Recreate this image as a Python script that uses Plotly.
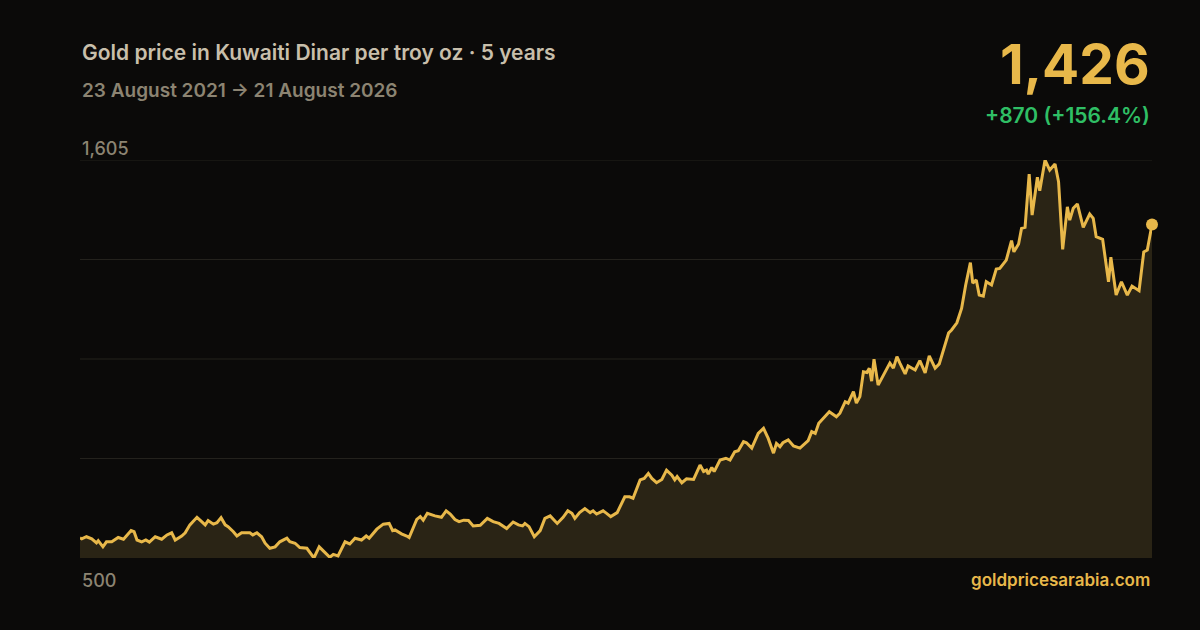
import pandas as pd
import plotly.graph_objects as go

# ---- data ----
start_date = "2021-08-23"
day_offsets = [0, 3, 11, 20, 28, 31, 39, 45, 54, 65, 74, 87, 92, 97, 105, 112, 118, 128, 139, 148,
               156, 162, 173, 179, 187, 199, 207, 213, 218, 227, 233, 240, 247, 252, 261, 267, 275, 289, 294, 301,
               309, 315, 323, 332, 340, 352, 357, 366, 374, 386, 398, 407, 417, 425, 431, 439, 451, 459, 468, 479,
               487, 492, 505, 516, 526, 532, 536, 547, 556, 560, 573, 579, 584, 591, 604, 615, 623, 630, 638, 645,
               653, 661, 669, 681, 693, 703, 713, 726, 737, 746, 753, 757, 764, 773, 783, 791, 800, 812, 822, 830,
               837, 842, 850, 859, 868, 873, 879, 890, 896, 903, 914, 927, 935, 941, 953, 960, 967, 973, 981, 990,
               998, 1007, 1012, 1016, 1024, 1032, 1044, 1055, 1061, 1066, 1069, 1075, 1079, 1089, 1099, 1106, 1114, 1120, 1129, 1134,
               1143, 1154, 1163, 1171, 1180, 1185, 1191, 1196, 1205, 1214, 1225, 1234, 1239, 1245, 1251, 1257, 1265, 1275, 1287, 1293,
               1302, 1307, 1316, 1321, 1327, 1333, 1339, 1343, 1347, 1351, 1358, 1370, 1378, 1384, 1390, 1395, 1404, 1409, 1421, 1429,
               1438, 1445, 1455, 1462, 1469, 1478, 1483, 1492, 1500, 1507, 1515, 1519, 1525, 1530, 1537, 1542, 1551, 1559, 1565, 1576,
               1585, 1589, 1597, 1602, 1608, 1615, 1620, 1629, 1633, 1642, 1650, 1659, 1665, 1672, 1680, 1684, 1690, 1697, 1707, 1718,
               1724, 1729, 1740, 1750, 1754, 1763, 1772, 1782, 1790, 1802, 1810, 1816, 1824]
prices = [556, 553, 559, 553, 542, 548, 531, 545, 545, 557, 552, 576, 573, 550, 545, 550, 544, 559, 552, 564,
          570, 550, 561, 570, 592, 613, 601, 592, 604, 594, 598, 612, 592, 587, 573, 561, 570, 570, 564, 570,
          559, 541, 527, 531, 545, 555, 545, 541, 529, 527, 500, 531, 515, 502, 510, 506, 545, 539, 555, 550,
          561, 555, 580, 594, 596, 576, 578, 567, 561, 557, 607, 615, 605, 624, 617, 613, 631, 622, 607, 601,
          605, 604, 589, 591, 610, 601, 596, 582, 600, 592, 589, 596, 587, 559, 576, 610, 617, 596, 613, 631,
          624, 610, 626, 637, 626, 631, 622, 631, 624, 615, 626, 670, 670, 666, 717, 721, 735, 721, 709, 718,
          744, 730, 717, 726, 709, 720, 718, 758, 740, 744, 733, 751, 740, 772, 777, 772, 795, 798, 823, 820,
          805, 846, 860, 832, 791, 818, 809, 820, 828, 811, 805, 820, 826, 851, 846, 874, 888, 906, 892, 902,
          934, 930, 962, 930, 948, 1017, 1015, 1027, 991, 1052, 980, 1017, 1041, 1027, 1059, 1041, 1011, 1033, 1022, 1048,
          1014, 1061, 1027, 1039, 1077, 1125, 1133, 1153, 1193, 1258, 1320, 1263, 1272, 1230, 1227, 1267, 1258, 1302, 1304, 1327,
          1381, 1350, 1372, 1415, 1418, 1566, 1452, 1557, 1520, 1605, 1577, 1594, 1545, 1357, 1475, 1438, 1471, 1483, 1418, 1455,
          1443, 1392, 1385, 1267, 1335, 1230, 1267, 1230, 1255, 1242, 1350, 1355, 1426]

y_min_label = 500
y_max_label = 1605
title_text = "Gold price in Kuwaiti Dinar per troy oz \u00b7 5 years"
subtitle_text = "23 August 2021 \u2192 21 August 2026"
last_price_text = "1,426"
change_text = "+870 (+156.4%)"
source_text = "goldpricesarabia.com"

# ---- styles ----
BG = "#0b0a09"
GOLD = "#e8b84a"
FILL = "#2a2415"
GRID = "#24221d"
BASE = "#3a3424"
FONT = "Inter"
W, H = 1200, 630
ML, MR, MT, MB = 80, 48, 160, 72
PH = H - MT - MB


def py(px):
    """paper y for a pixel row measured from the top"""
    return (H - MB - px) / PH


dates = pd.to_datetime(start_date) + pd.to_timedelta(day_offsets, unit="D")

fig = go.Figure()
fig.add_trace(go.Scatter(
    x=dates, y=prices, mode="lines",
    line=dict(color=GOLD, width=3, shape="linear"),
    fill="tozeroy", fillcolor=FILL,
    hoverinfo="skip", showlegend=False,
))
fig.add_trace(go.Scatter(
    x=[dates[-1]], y=[prices[-1]], mode="markers",
    marker=dict(color=GOLD, size=12), cliponaxis=False,
    hoverinfo="skip", showlegend=False,
))

grid_vals = [y_min_label + (y_max_label - y_min_label) * k / 4 for k in range(5)]
for i, gv in enumerate(grid_vals):
    fig.add_shape(type="line", xref="paper", x0=0, x1=1, yref="y", y0=gv, y1=gv,
                  line=dict(color=BASE if i == 0 else GRID, width=1), layer="below")

fig.update_layout(
    width=W, height=H,
    paper_bgcolor=BG, plot_bgcolor=BG,
    margin=dict(l=ML, r=MR, t=MT, b=MB),
    xaxis=dict(range=[dates[0], dates[-1]], showgrid=False, zeroline=False,
               showticklabels=False, showline=False, fixedrange=True),
    yaxis=dict(range=[y_min_label, y_max_label], showgrid=False, zeroline=False,
               showticklabels=False, showline=False, fixedrange=True),
    font=dict(family=FONT),
    hovermode=False,
    annotations=[
        dict(text=title_text, xref="paper", yref="paper", x=0, y=py(53),
             xanchor="left", yanchor="middle", showarrow=False,
             font=dict(family=FONT, size=21, color="#c8bfab", weight=600)),
        dict(text=subtitle_text, xref="paper", yref="paper", x=0, y=py(90),
             xanchor="left", yanchor="middle", showarrow=False,
             font=dict(family=FONT, size=19, color="#8c8472", weight=600)),
        dict(text=last_price_text, xref="paper", yref="paper", x=1, y=py(64),
             xanchor="right", yanchor="middle", showarrow=False,
             font=dict(family=FONT, size=55, color=GOLD, weight=700)),
        dict(text=change_text, xref="paper", yref="paper", x=1, y=py(115),
             xanchor="right", yanchor="middle", showarrow=False,
             font=dict(family=FONT, size=21, color="#2fbf65", weight=600)),
        dict(text=f"{y_max_label:,}", xref="paper", yref="paper", x=0, y=py(148),
             xanchor="left", yanchor="middle", showarrow=False,
             font=dict(family=FONT, size=18, color="#8c8472", weight=500)),
        dict(text=f"{y_min_label:,}", xref="paper", yref="paper", x=0, y=py(580),
             xanchor="left", yanchor="middle", showarrow=False,
             font=dict(family=FONT, size=18, color="#8c8472", weight=500)),
        dict(text=source_text, xref="paper", yref="paper", x=1, y=py(580),
             xanchor="right", yanchor="middle", showarrow=False,
             font=dict(family=FONT, size=17, color=GOLD, weight=600)),
    ],
)

fig.write_html("out.html", config={"displayModeBar": False, "staticPlot": True},
               post_script="document.body.style.margin='0';document.body.style.background='#0b0a09';")
